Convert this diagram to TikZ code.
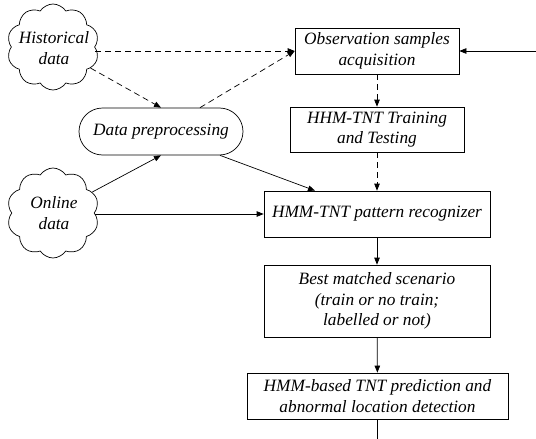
\documentclass[tikz,border=0pt]{standalone}
\usepackage{fontspec}
\setmainfont{Liberation Serif}
\usetikzlibrary{arrows.meta,shapes.symbols,shapes.misc}
\begin{document}
\begin{tikzpicture}[x=1pt,y=-1pt,
  txt/.style={font=\fontsize{17.3}{20.7}\selectfont\itshape, align=center},
  box/.style={draw, line width=0.7pt, txt, inner sep=0pt},
  cloudbox/.style={draw, cloud, cloud puffs=10, cloud puff arc=115, line width=0.7pt, inner sep=0pt, cloud ignores aspect},
  arr/.style={line width=0.7pt, -{Triangle[length=7pt,width=5.5pt]}},
  darr/.style={arr, dash pattern=on 6pt off 4pt},
]
\useasboundingbox (0,0) rectangle (536,439);
% nodes
\node[box, minimum width=164pt, minimum height=46pt] (obs) at (377,51) {Observation samples\\acquisition};
\node[box, minimum width=174pt, minimum height=45pt] (train) at (377,129.5) {HHM-TNT Training\\and Testing};
\node[box, minimum width=226pt, minimum height=46pt] (pat) at (377,214) {HMM-TNT pattern recognizer};
\node[box, minimum width=226pt, minimum height=72pt] (best) at (377,301) {Best matched scenario\\(train or no train;\\labelled or not)};
\node[box, minimum width=261pt, minimum height=46pt] (pred) at (377.5,396) {HMM-based TNT prediction and\\abnormal location detection};
\node[box, rounded rectangle, minimum width=164pt, minimum height=47pt] (prep) at (161,131.5) {Data preprocessing};
\node[cloudbox, minimum width=92pt, minimum height=86pt] (hist) at (53,47) {};
\node[txt] (histt) at (54,48) {Historical\\data};
\node[cloudbox, minimum width=92pt, minimum height=90pt] (online) at (53,213) {};
\node[txt] (onlinet) at (54,213) {Online\\data};
\coordinate (rin) at (536,51);
\coordinate (bout) at (377.5,439);
% connectors
\draw[darr] (hist.east |- obs.west) -- (obs.west);
\draw[darr] (hist) -- (prep.north);
\draw[darr] ([xshift=39pt]prep.north) -- (obs.west);
\draw[darr] (obs) -- (train);
\draw[darr] (train) -- (pat);
\draw[arr] (online) -- (prep.south);
\draw[arr] (online.east |- pat.west) -- (pat.west);
\draw[arr] ([xshift=59pt]prep.south) -- ([xshift=-62pt]pat.north);
\draw[arr] (pat) -- (best);
\draw[arr] (best) -- (pred);
\draw[arr] (rin) -- (obs.east);
\draw[line width=0.7pt] (pred.south) -- (bout);
\end{tikzpicture}
\end{document}
